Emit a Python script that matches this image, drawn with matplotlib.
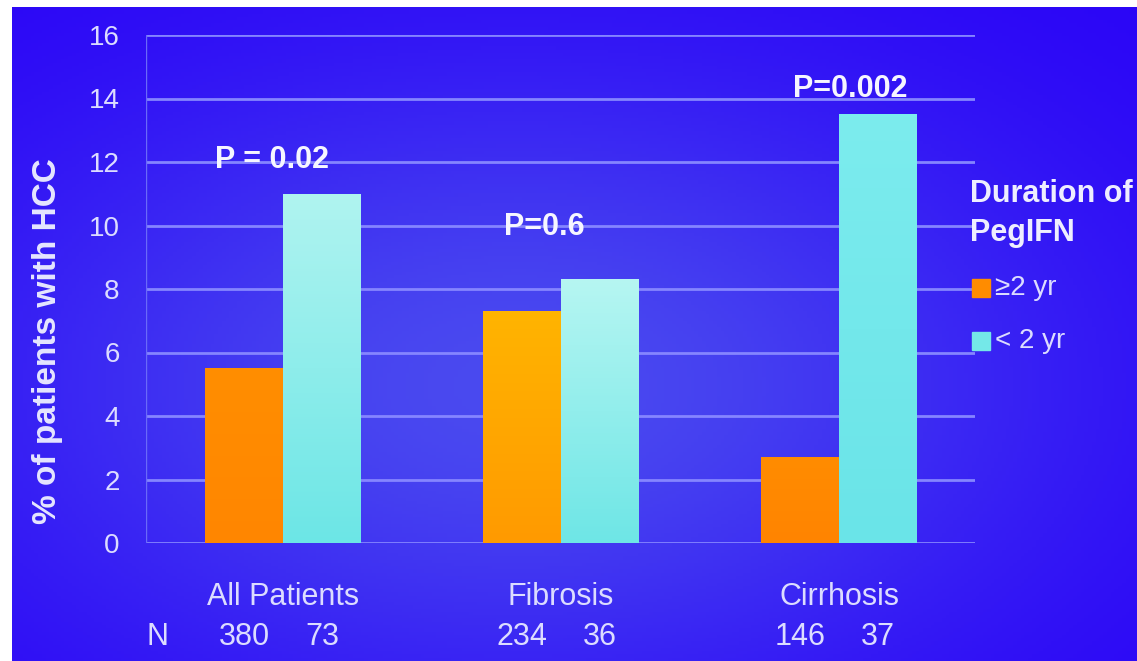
import numpy as np
import matplotlib.pyplot as plt
from matplotlib.patches import Rectangle

# HCC incidence by duration of PegIFN therapy
categories = ['All Patients', 'Fibrosis', 'Cirrhosis']
pct_long = [5.5, 7.3, 2.7]      # >=2 yr
pct_short = [11.0, 8.3, 13.5]   # <2 yr
n_long = [380, 234, 146]
n_short = [73, 36, 37]
p_values = ['P = 0.02', 'P=0.6', 'P=0.002']
yticks = [0, 2, 4, 6, 8, 10, 12, 14, 16]
series_names = ['\u22652 yr', '< 2 yr']

plt.rcParams['font.family'] = ['Liberation Sans', 'DejaVu Sans']

W, H = 1137, 661
fig = plt.figure(figsize=(W / 100, H / 100), dpi=100, facecolor='white')

# slide background: blue with a lighter patch in the middle
bg = fig.add_axes([12 / W, 0, 1 - 12 / W, (H - 7) / H])
bg.set_axis_off()
u = np.linspace(0, 1, 300)[None, :]
v = np.linspace(0, 1, 200)[:, None]
glow = np.exp(-((u - 0.45) / 0.5) ** 2 - ((v - 0.42) / 0.5) ** 2)
dark = np.array([0.16, 0.0, 0.97])
light = np.array([0.29, 0.29, 0.94])
bgimg = dark + (light - dark) * glow[..., None]
bg.imshow(bgimg, origin='lower', extent=[0, 1, 0, 1], aspect='auto')
bg.set_xlim(0, 1)
bg.set_ylim(0, 1)

ax = fig.add_axes([146 / W, (H - 543) / H, (975 - 146) / W, 508 / H])
ax.patch.set_alpha(0)

x = np.arange(len(categories))
w = 0.28
grid_c = '#8585ff'
text_c = '#dcdcff'

for t in yticks:
    ax.axhline(t, color=grid_c, lw=2, zorder=1)
ax.axvline(-0.493, color='#6a6af8', lw=1, zorder=1)

bars_long = ax.bar(x - w / 2, pct_long, w, color='#ff8c00', zorder=3, lw=0)
bars_short = ax.bar(x + w / 2, pct_short, w, color='#74e8e8', zorder=3, lw=0)

# vertical shading inside each bar (bottom colour, top colour)
long_shades = [('#ff8600', '#ff8e00'), ('#ff9a00', '#ffb400'), ('#ff8400', '#ff8c00')]
short_shades = [('#6ce6e6', '#b0f4f0'), ('#6ee6e6', '#b6f6f2'), ('#6ae4e8', '#7cecee')]
grad = np.linspace(0, 1, 128)[:, None, None]
for bars, shades in [(bars_long, long_shades), (bars_short, short_shades)]:
    for b, (c0, c1) in zip(bars, shades):
        c0 = np.array(plt.matplotlib.colors.to_rgb(c0))
        c1 = np.array(plt.matplotlib.colors.to_rgb(c1))
        img = c0 + (c1 - c0) * grad
        im = ax.imshow(img, origin='lower', aspect='auto', zorder=4,
                       extent=[b.get_x(), b.get_x() + b.get_width(), 0, b.get_height()])
        im.set_clip_path(b)

ax.set_xlim(-0.493, 2.489)
ax.set_ylim(0, 16)
ax.set_yticks(yticks)
ax.set_xticks([])
ax.tick_params(axis='y', length=0, pad=19, labelsize=20, labelcolor=text_c)
for s in ax.spines.values():
    s.set_visible(False)

# P-values above each group
p_xy = [(-0.04, 12.05), (0.94, 9.95), (2.04, 14.3)]
for txt, (px, py) in zip(p_values, p_xy):
    ax.text(px, py, txt, ha='center', va='center', fontsize=22,
            fontweight='bold', color='#f6f6ff', zorder=5)

# group names and patient counts under the axis
tr = ax.get_xaxis_transform()
for i, cat in enumerate(categories):
    ax.text(x[i], -0.106, cat, transform=tr, ha='center', va='center',
            fontsize=22, color=text_c)
    ax.text(x[i] - w / 2, -0.185, str(n_long[i]), transform=tr,
            ha='center', va='center', fontsize=22, color=text_c)
    ax.text(x[i] + w / 2, -0.185, str(n_short[i]), transform=tr,
            ha='center', va='center', fontsize=22, color=text_c)
ax.text(-0.45, -0.185, 'N', transform=tr, ha='center', va='center',
        fontsize=22, color=text_c)

fig.text(48 / W, (H - 341) / H, '% of patients with HCC', rotation=90,
         ha='center', va='center', fontsize=24, fontweight='bold', color='#e6e6ff')

# legend
fig.text(970 / W, (H - 194) / H, 'Duration of', ha='left', va='center',
         fontsize=22, fontweight='bold', color='#eeeeff')
fig.text(970 / W, (H - 233) / H, 'PegIFN', ha='left', va='center',
         fontsize=22, fontweight='bold', color='#eeeeff')
for (name, bar), yc in zip(zip(series_names, [bars_long[0], bars_short[0]]), [288, 341]):
    fig.patches.append(Rectangle((972 / W, (H - yc - 9) / H), 18 / W, 18 / H,
                                 transform=fig.transFigure, color=bar.get_facecolor()))
    fig.text(995 / W, (H - yc) / H, name, ha='left', va='center',
             fontsize=20, color=text_c)

fig.savefig('out.png', dpi=100, facecolor='white')
